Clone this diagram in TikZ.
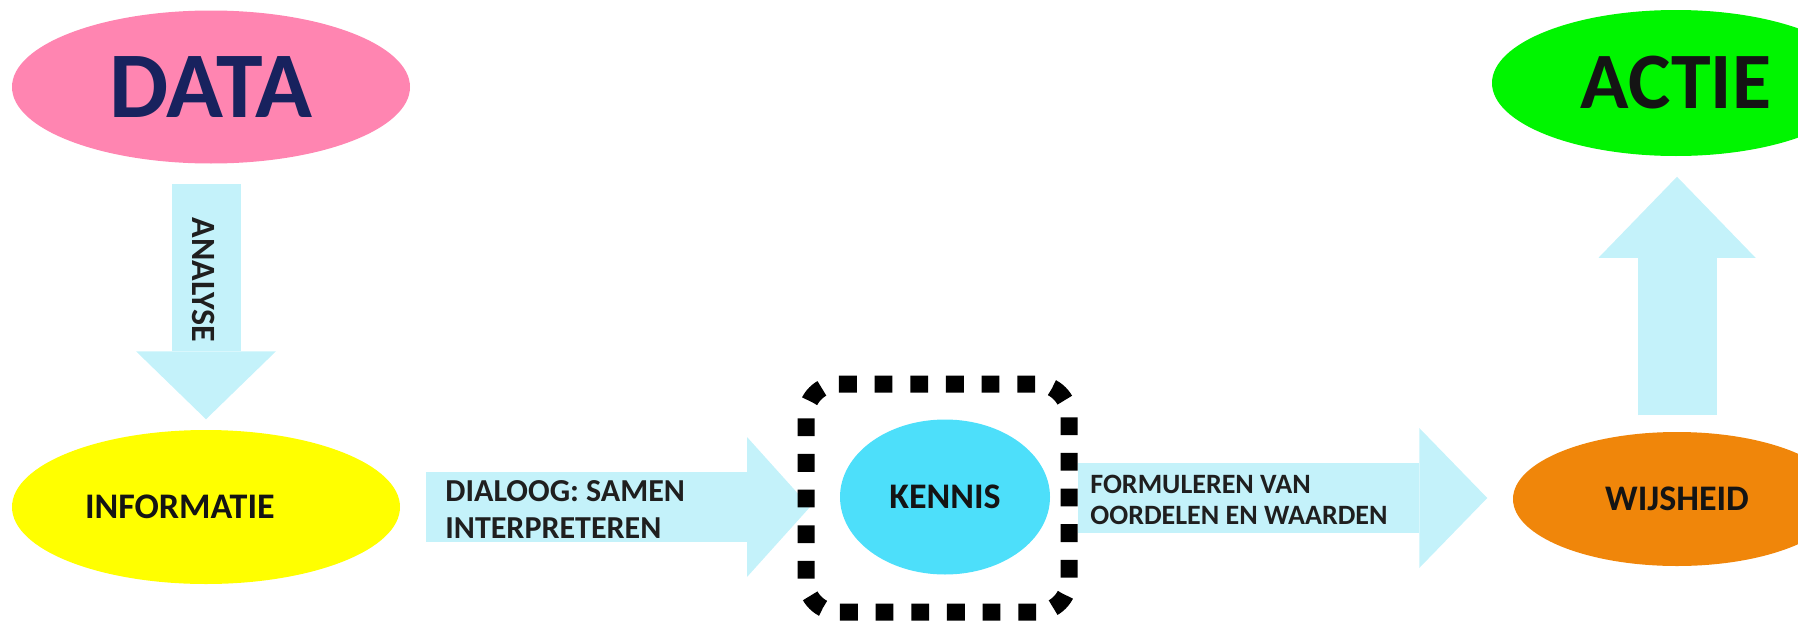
\documentclass[tikz,border=0pt]{standalone}
\usepackage{fontspec}
\setmainfont{Carlito}
\usetikzlibrary{shapes.geometric,arrows.meta}
\pgfdeclarelayer{background}
\pgfsetlayers{background,main}

\definecolor{datapink}{RGB}{255,133,177}
\definecolor{datanavy}{RGB}{24,34,94}
\definecolor{infoyellow}{RGB}{255,255,0}
\definecolor{kenniscyan}{RGB}{77,223,250}
\definecolor{wijsorange}{RGB}{240,134,10}
\definecolor{actiegreen}{RGB}{0,245,0}
\definecolor{pijlblauw}{RGB}{196,242,250}

\tikzset{every picture/.style={line width=0.75pt}}
\tikzset{
  blob/.style={ellipse, inner sep=0pt, text=black!92},
  pijl/.style={draw=pijlblauw, line width=35pt},
  pijltekst/.style={text=black!88, align=left, inner sep=0pt},
  stippelkader/.style={draw=black, line width=8.5pt, dash pattern=on 8.914pt off 8.914pt, dash phase=16.86pt, rounded corners=16pt, inner sep=0pt, outer sep=0pt}
}

\begin{document}
\begin{tikzpicture}[x=0.5pt,y=0.5pt,yscale=-1,xscale=1]
\useasboundingbox (0,0) rectangle (1798,621);

% Ellipse Node
\node[blob, fill=datapink, minimum width=199pt, minimum height=76.5pt, text=datanavy, font=\bfseries\fontsize{47}{55}\selectfont] (data) at (211,87) {DATA};
% Ellipse Node
\node[blob, fill=infoyellow, minimum width=194pt, minimum height=77pt, text width=121pt, align=left, font=\bfseries\fontsize{18}{22}\selectfont] (info) at (206,507) {INFORMATIE};
% Ellipse Node
\node[blob, fill=kenniscyan, minimum width=105pt, minimum height=77.5pt, font=\bfseries\fontsize{18}{22}\selectfont] (kennis) at (945,497) {KENNIS};
% Dotted frame
\node[stippelkader, minimum width=131.5pt, minimum height=114pt] (kbox) at (937.5,498) {};
% Ellipse Node
\node[blob, fill=wijsorange, minimum width=164pt, minimum height=67pt, font=\bfseries\fontsize{18}{22}\selectfont] (wijs) at (1677,499) {WIJSHEID};
% Ellipse Node
\node[blob, fill=actiegreen, minimum width=184pt, minimum height=73pt, font=\bfseries\fontsize{40}{48}\selectfont] (actie) at (1676,83) {ACTIE};

% Connection
\begin{pgfonlayer}{background}
\draw[pijl, line width=34.5pt, -{Triangle[length=34pt,width=70pt,line width=0pt]}, shorten <=10pt, shorten >=5pt] (info.north |- data.south) -- (info.north);
\draw[pijl, -{Triangle[length=31.5pt,width=70pt,line width=0pt]}, shorten <=12.5pt, shorten >=-2pt] (info.east) -- (info.east -| kbox.west);
\draw[pijl, -{Triangle[length=34pt,width=70pt,line width=0pt]}, shorten <=4.5pt, shorten >=12.5pt] (kbox.east) -- (kbox.east -| wijs.west);
\draw[pijl, line width=39.5pt, -{Triangle[length=40.5pt,width=78.5pt,line width=0pt]}, shorten <=8pt, shorten >=10pt] (wijs.north) -- (wijs.north |- actie.south);
\end{pgfonlayer}

% Text Node
\node[pijltekst, rotate=-90, font=\bfseries\fontsize{17}{20}\selectfont] (analyse) at (204,280) {ANALYSE};
% Text Node
\node[pijltekst, anchor=west, font=\bfseries\fontsize{16}{18.5}\selectfont] (dialoog) at (445,509) {DIALOOG: SAMEN\\INTERPRETEREN};
% Text Node
\node[pijltekst, anchor=west, font=\bfseries\fontsize{14}{15.5}\selectfont] (formuleren) at (1090,500) {FORMULEREN VAN\\OORDELEN EN WAARDEN};

\end{tikzpicture}
\end{document}
